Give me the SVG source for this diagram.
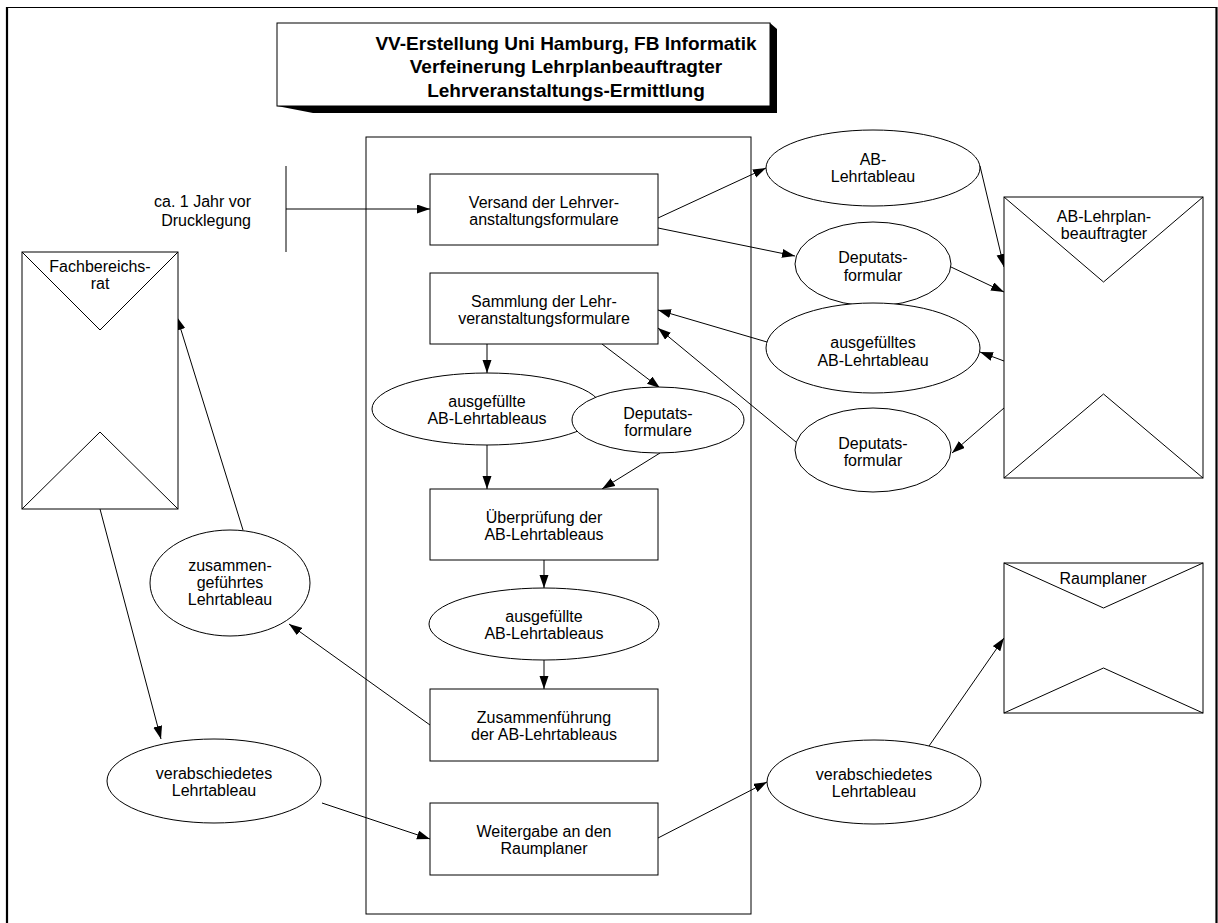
<svg xmlns="http://www.w3.org/2000/svg" width="1218" height="923" viewBox="0 0 1218 923">
  <style>
    .shape { fill: #fff; stroke: #000; stroke-width: 1; }
    .plain { fill: none; stroke: #000; stroke-width: 1; }
    .lbl { font-family: "Liberation Sans", Arial, sans-serif; font-size: 16px; fill: #000; text-anchor: middle; }
    .rt { text-anchor: end; }
    .title { font-family: "Liberation Sans", Arial, sans-serif; font-size: 19px; font-weight: bold; fill: #000; text-anchor: middle; }
    .conn line { fill: none; stroke: #000; stroke-width: 1; marker-end: url(#head); }
  </style>
  <defs>
    <marker id="head" markerUnits="userSpaceOnUse" markerWidth="14" markerHeight="10" refX="13" refY="4.5" orient="auto">
      <path d="M0,0 L13,4.5 L0,9 z" fill="#000"/>
    </marker>
  </defs>

  <rect width="1218" height="923" fill="#fff"/>

  <!-- page frame -->
  <g id="frame">
    <line x1="7" y1="7.5" x2="1217" y2="7.5" stroke="#000" stroke-width="1"/>
    <line x1="7" y1="7" x2="7" y2="923" stroke="#000" stroke-width="2.2"/>
    <line x1="1216.5" y1="7" x2="1216.5" y2="923" stroke="#000" stroke-width="2.2"/>
  </g>

  <!-- title block with drop shadow -->
  <g id="title">
    <polygon points="277,106 770,106 770,23 777,29 777,113 313,113" fill="#000"/>
    <rect class="shape" x="277" y="23" width="493" height="83"/>
    <text class="title" x="566" y="50">VV-Erstellung Uni Hamburg, FB Informatik</text>
    <text class="title" x="566" y="73">Verfeinerung Lehrplanbeauftragter</text>
    <text class="title" x="566" y="97">Lehrveranstaltungs-Ermittlung</text>
  </g>

  <!-- swimlane of the activity -->
  <g id="lane">
    <rect class="plain" x="366" y="137" width="385" height="777"/>
  </g>

  <!-- time trigger -->
  <g id="trigger">
    <line x1="286" y1="166" x2="286" y2="252" stroke="#000" stroke-width="1"/>
    <text class="lbl rt" x="251" y="207">ca. 1 Jahr vor</text>
    <text class="lbl rt" x="251" y="226">Drucklegung</text>
  </g>

  <!-- connectors -->
  <g id="connectors" class="conn">
    <line x1="286" y1="209" x2="430" y2="209"/>
    <line x1="658" y1="218" x2="766" y2="168"/>
    <line x1="658" y1="228" x2="795" y2="256"/>
    <line x1="980" y1="166" x2="1004" y2="267"/>
    <line x1="951" y1="267" x2="1004" y2="292"/>
    <line x1="1004" y1="361" x2="980" y2="352"/>
    <line x1="1004" y1="408" x2="952" y2="453"/>
    <line x1="767" y1="342" x2="658" y2="310"/>
    <line x1="796" y1="442" x2="658" y2="328"/>
    <line x1="487" y1="344" x2="487" y2="373"/>
    <line x1="602" y1="344" x2="660" y2="388"/>
    <line x1="487" y1="445" x2="487" y2="489"/>
    <line x1="660" y1="453" x2="602" y2="489"/>
    <line x1="544" y1="560" x2="544" y2="588"/>
    <line x1="544" y1="660" x2="544" y2="689"/>
    <line x1="430" y1="725" x2="289" y2="624"/>
    <line x1="243" y1="530" x2="177" y2="317"/>
    <line x1="100" y1="509" x2="161" y2="739"/>
    <line x1="322" y1="803" x2="430" y2="839"/>
    <line x1="658" y1="838" x2="767" y2="782"/>
    <line x1="929" y1="746" x2="1004" y2="638"/>
  </g>

  <!-- activities -->
  <g id="versand">
    <rect class="shape" x="430" y="174" width="228" height="71"/>
    <text class="lbl" x="544" y="207.5">Versand der Lehrver-</text>
    <text class="lbl" x="544" y="224.5">anstaltungsformulare</text>
  </g>
  <g id="sammlung">
    <rect class="shape" x="430" y="273" width="228" height="71"/>
    <text class="lbl" x="544" y="306.5">Sammlung der Lehr-</text>
    <text class="lbl" x="544" y="323.5">veranstaltungsformulare</text>
  </g>
  <g id="ueberpruefung">
    <rect class="shape" x="430" y="489" width="228" height="71"/>
    <text class="lbl" x="544" y="522.5">Überprüfung der</text>
    <text class="lbl" x="544" y="539.5">AB-Lehrtableaus</text>
  </g>
  <g id="zusammenfuehrung">
    <rect class="shape" x="430" y="689" width="228" height="72"/>
    <text class="lbl" x="544" y="723">Zusammenführung</text>
    <text class="lbl" x="544" y="740">der AB-Lehrtableaus</text>
  </g>
  <g id="weitergabe">
    <rect class="shape" x="430" y="803" width="228" height="72"/>
    <text class="lbl" x="544" y="837">Weitergabe an den</text>
    <text class="lbl" x="544" y="854">Raumplaner</text>
  </g>

  <!-- documents inside the lane -->
  <g id="tableaus-1">
    <ellipse class="shape" cx="487" cy="409" rx="115" ry="36"/>
    <text class="lbl" x="487" y="407">ausgefüllte</text>
    <text class="lbl" x="487" y="424">AB-Lehrtableaus</text>
  </g>
  <g id="deputatsformulare">
    <ellipse class="shape" cx="658" cy="420" rx="86" ry="33"/>
    <text class="lbl" x="658" y="419">Deputats-</text>
    <text class="lbl" x="658" y="436">formulare</text>
  </g>
  <g id="tableaus-2">
    <ellipse class="shape" cx="544" cy="624" rx="115" ry="36"/>
    <text class="lbl" x="544" y="622">ausgefüllte</text>
    <text class="lbl" x="544" y="639">AB-Lehrtableaus</text>
  </g>

  <!-- documents on the right -->
  <g id="ab-lehrtableau">
    <ellipse class="shape" cx="873" cy="168" rx="107" ry="38"/>
    <text class="lbl" x="873" y="165">AB-</text>
    <text class="lbl" x="873" y="182">Lehrtableau</text>
  </g>
  <g id="deputat-out">
    <ellipse class="shape" cx="873" cy="264" rx="78" ry="42"/>
    <text class="lbl" x="873" y="263">Deputats-</text>
    <text class="lbl" x="873" y="281">formular</text>
  </g>
  <g id="tableau-back">
    <ellipse class="shape" cx="873" cy="348" rx="107" ry="45"/>
    <text class="lbl" x="873" y="348">ausgefülltes</text>
    <text class="lbl" x="873" y="366">AB-Lehrtableau</text>
  </g>
  <g id="deputat-back">
    <ellipse class="shape" cx="873" cy="450" rx="78" ry="42"/>
    <text class="lbl" x="873" y="449">Deputats-</text>
    <text class="lbl" x="873" y="466">formular</text>
  </g>
  <g id="lehrtableau-raum">
    <ellipse class="shape" cx="874" cy="782" rx="107" ry="42"/>
    <text class="lbl" x="874" y="780">verabschiedetes</text>
    <text class="lbl" x="874" y="797">Lehrtableau</text>
  </g>

  <!-- documents on the left -->
  <g id="zusammengefuehrt">
    <ellipse class="shape" cx="230" cy="583" rx="80" ry="53"/>
    <text class="lbl" x="230" y="571">zusammen-</text>
    <text class="lbl" x="230" y="588">geführtes</text>
    <text class="lbl" x="230" y="605">Lehrtableau</text>
  </g>
  <g id="lehrtableau-fbr">
    <ellipse class="shape" cx="214" cy="781" rx="107" ry="42"/>
    <text class="lbl" x="214" y="779">verabschiedetes</text>
    <text class="lbl" x="214" y="796">Lehrtableau</text>
  </g>

  <!-- actors (envelope symbols) -->
  <g id="fachbereichsrat">
    <rect class="shape" x="22" y="252" width="156" height="257"/>
    <polyline class="plain" points="22,252 100,330 178,252"/>
    <polyline class="plain" points="22,509 100,432 178,509"/>
    <text class="lbl" x="100" y="272">Fachbereichs-</text>
    <text class="lbl" x="100" y="289">rat</text>
  </g>
  <g id="lehrplanbeauftragter">
    <rect class="shape" x="1004" y="197" width="199" height="281"/>
    <polyline class="plain" points="1004,197 1103.5,282 1203,197"/>
    <polyline class="plain" points="1004,478 1103.5,394 1203,478"/>
    <text class="lbl" x="1104" y="222">AB-Lehrplan-</text>
    <text class="lbl" x="1104" y="239">beauftragter</text>
  </g>
  <g id="raumplaner">
    <rect class="shape" x="1004" y="563" width="199" height="150"/>
    <polyline class="plain" points="1004,563 1103.5,608 1203,563"/>
    <polyline class="plain" points="1004,713 1103.5,668 1203,713"/>
    <text class="lbl" x="1103" y="584">Raumplaner</text>
  </g>
</svg>
